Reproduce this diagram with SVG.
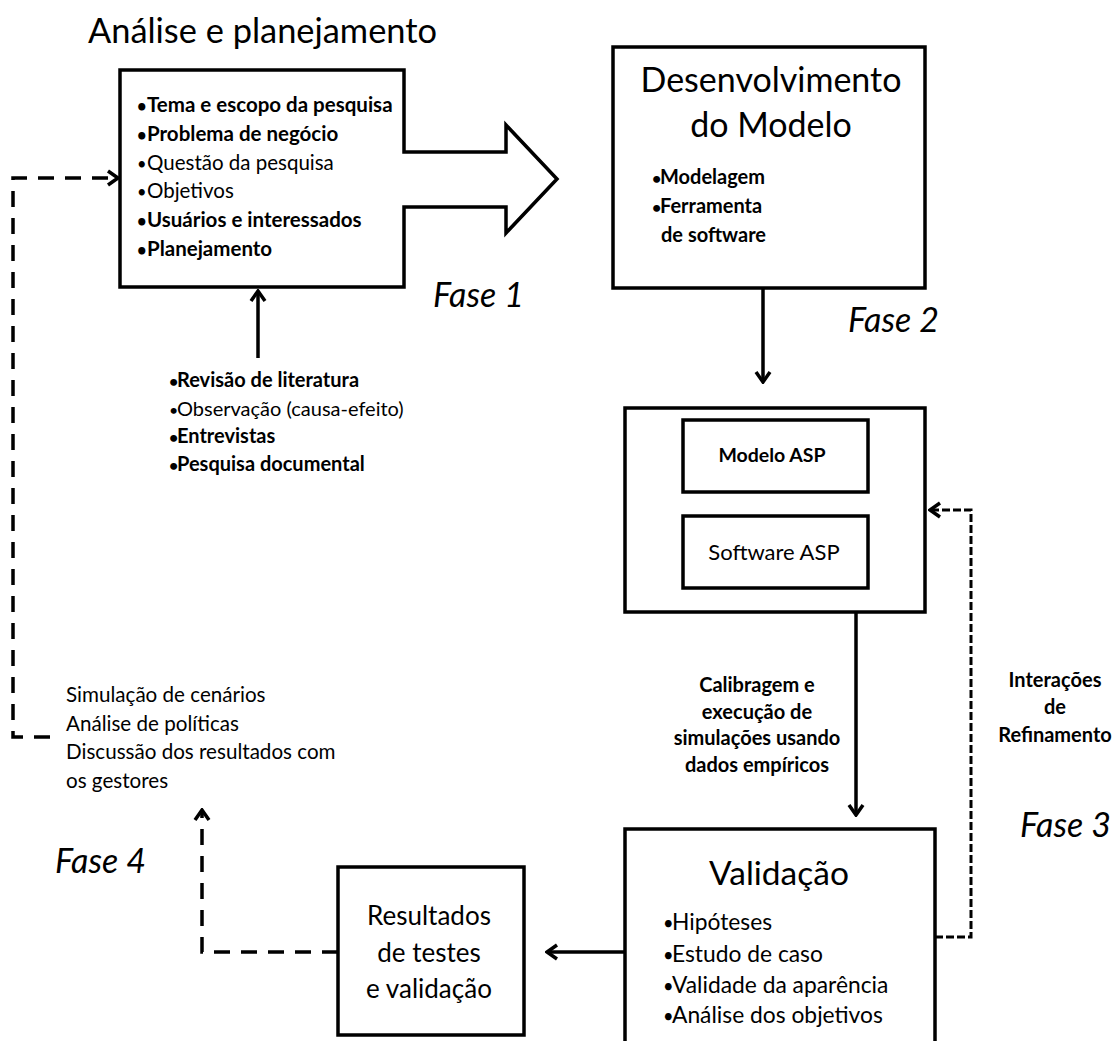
<svg xmlns="http://www.w3.org/2000/svg" width="1115" height="1041" viewBox="0 0 1115 1041">
<style>
text{font-family:Lato,"Liberation Sans",sans-serif;fill:#000}
.box{fill:#fff;stroke:#000;stroke-width:3.5}
.ln{fill:none;stroke:#000;stroke-width:3.5}
.dash{fill:none;stroke:#000;stroke-width:3.5;stroke-dasharray:16 11}
.dash2{fill:none;stroke:#000;stroke-width:3;stroke-dasharray:8 3}
.l1{font-size:20.5px}
.b{font-weight:bold}
.s20{font-size:20px}
.big{font-size:34px}
.fase{font-size:34px;font-style:italic}
.bu{font-size:0.8em}
</style>
<defs>
<marker id="ah" viewBox="0 0 14 18" refX="12" refY="9" markerWidth="14" markerHeight="18" markerUnits="userSpaceOnUse" orient="auto">
<path d="M2,2 L12,9 L2,16" fill="none" stroke="#000" stroke-width="3.5" stroke-linejoin="miter"/>
</marker>
</defs>

<g id="connectors">
<line class="ln" x1="258" y1="358" x2="258" y2="291" marker-end="url(#ah)"/>
<line class="ln" x1="763" y1="288" x2="763" y2="382" marker-end="url(#ah)"/>
<line class="ln" x1="856" y1="612" x2="856" y2="815" marker-end="url(#ah)"/>
<line class="ln" x1="625" y1="952" x2="547" y2="952" marker-end="url(#ah)"/>
<polyline class="dash2" points="935,937 971,937 971,510 930,510" marker-end="url(#ah)"/>
<polyline class="dash" points="338,952 202,952 202,810" marker-end="url(#ah)"/>
<polyline class="dash" points="50,737 13,737 13,178 118,178" marker-end="url(#ah)"/>
</g>

<g id="title">
<text x="88" y="43" style="font-size:34.4px">Análise e planejamento</text>
</g>

<g id="fase1-analise">
<path class="box" d="M120,70 L404,70 L404,152 L506,152 L506,125 L557,179 L506,233 L506,207 L404,207 L404,287 L120,287 Z"/>
<text class="l1 b" x="137" y="112"><tspan class="bu">•</tspan><tspan x="147">Tema e escopo da pesquisa</tspan></text>
<text class="l1 b" x="137" y="141"><tspan class="bu">•</tspan><tspan x="147">Problema de negócio</tspan></text>
<text class="l1" x="137" y="170"><tspan class="bu">•</tspan><tspan x="147">Questão da pesquisa</tspan></text>
<text class="l1" x="137" y="198"><tspan class="bu">•</tspan><tspan x="147">Objetivos</tspan></text>
<text class="l1 b" x="137" y="227"><tspan class="bu">•</tspan><tspan x="147">Usuários e interessados</tspan></text>
<text class="l1 b" x="137" y="256"><tspan class="bu">•</tspan><tspan x="147">Planejamento</tspan></text>
</g>
<text class="fase" x="433" y="307">Fase 1</text>

<g id="fontes">
<text class="s20 b" x="169" y="387"><tspan class="bu">•</tspan><tspan x="177">Revisão de literatura</tspan></text>
<text class="s20" x="169" y="416"><tspan class="bu">•</tspan><tspan x="177">Observação (causa-efeito)</tspan></text>
<text class="s20 b" x="169" y="443"><tspan class="bu">•</tspan><tspan x="177">Entrevistas</tspan></text>
<text class="s20 b" x="169" y="471"><tspan class="bu">•</tspan><tspan x="177">Pesquisa documental</tspan></text>
</g>

<g id="fase2-desenvolvimento">
<rect class="box" x="613" y="47" width="312" height="241"/>
<text class="big" x="771" y="92" text-anchor="middle">Desenvolvimento</text>
<text class="big" x="771" y="137" text-anchor="middle">do Modelo</text>
<text class="s20 b" x="652" y="184"><tspan class="bu">•</tspan><tspan x="660">Modelagem</tspan></text>
<text class="s20 b" x="652" y="213"><tspan class="bu">•</tspan><tspan x="660">Ferramenta</tspan></text>
<text class="s20 b" x="661" y="242">de software</text>
</g>
<text class="fase" x="848" y="332">Fase 2</text>

<g id="asp">
<rect class="box" x="625" y="408" width="300" height="204"/>
<rect class="box" x="683" y="420" width="185" height="72"/>
<text x="772" y="462" text-anchor="middle" style="font-size:19.5px;font-weight:bold">Modelo ASP</text>
<rect class="box" x="683" y="516" width="185" height="72"/>
<text x="774" y="560" text-anchor="middle" style="font-size:22px">Software ASP</text>
</g>

<g id="calibragem">
<text class="s20 b" x="757" y="692" text-anchor="middle">Calibragem e</text>
<text class="s20 b" x="757" y="719" text-anchor="middle">execução de</text>
<text class="s20 b" x="757" y="745" text-anchor="middle">simulações usando</text>
<text class="s20 b" x="757" y="772" text-anchor="middle">dados empíricos</text>
</g>

<g id="refinamento">
<text class="s20 b" x="1055" y="687" text-anchor="middle">Interações</text>
<text class="s20 b" x="1055" y="714" text-anchor="middle">de</text>
<text class="s20 b" x="1055" y="742" text-anchor="middle">Refinamento</text>
</g>
<text class="fase" x="1020" y="837">Fase 3</text>

<g id="fase3-validacao">
<rect class="box" x="625" y="829" width="310" height="240"/>
<text class="big" x="779" y="885" text-anchor="middle" style="font-size:33.5px">Validação</text>
<g style="font-size:22.8px">
<text x="663" y="930"><tspan class="bu">•</tspan><tspan x="672">Hipóteses</tspan></text>
<text x="663" y="962"><tspan class="bu">•</tspan><tspan x="672">Estudo de caso</tspan></text>
<text x="663" y="993"><tspan class="bu">•</tspan><tspan x="672">Validade da aparência</tspan></text>
<text x="663" y="1023"><tspan class="bu">•</tspan><tspan x="672">Análise dos objetivos</tspan></text>
</g>
</g>

<g id="resultados">
<rect class="box" x="338" y="867" width="186" height="168"/>
<text x="429" y="925" text-anchor="middle" style="font-size:26px">Resultados</text>
<text x="429" y="962" text-anchor="middle" style="font-size:26px">de testes</text>
<text x="429" y="998" text-anchor="middle" style="font-size:26px">e validação</text>
</g>

<g id="fase4-simulacao">
<text x="66" y="702" style="font-size:20.6px">Simulação de cenários</text>
<text x="66" y="731" style="font-size:20.6px">Análise de políticas</text>
<text x="66" y="759" style="font-size:20.6px">Discussão dos resultados com</text>
<text x="66" y="788" style="font-size:20.6px">os gestores</text>
</g>
<text class="fase" x="55" y="873">Fase 4</text>
</svg>
